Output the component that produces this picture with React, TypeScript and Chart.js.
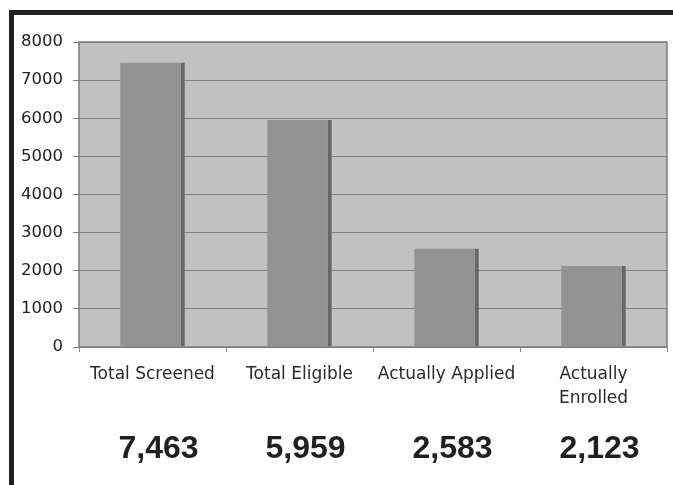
import React, { useEffect, useRef } from "react";
import { Chart, registerables } from "chart.js";

Chart.register(...registerables);

const categories: (string | string[])[] = [
  "Total Screened",
  "Total Eligible",
  "Actually Applied",
  ["Actually", "Enrolled"],
];
const values: number[] = [7463, 5959, 2583, 2123];
const totalLabels: string[] = ["7,463", "5,959", "2,583", "2,123"];
const yTicks: number[] = [0, 1000, 2000, 3000, 4000, 5000, 6000, 7000, 8000];

const plotBgPlugin = {
  id: "plotBg",
  beforeDraw(chart: any) {
    const { ctx, chartArea } = chart;
    ctx.save();
    ctx.fillStyle = "#c1c1c1";
    ctx.fillRect(chartArea.left, chartArea.top, chartArea.right - chartArea.left, chartArea.bottom - chartArea.top);
    ctx.restore();
  },
  afterDraw(chart: any) {
    const { ctx, chartArea } = chart;
    ctx.save();
    ctx.strokeStyle = "#7c7c7c";
    ctx.lineWidth = 1.5;
    ctx.strokeRect(chartArea.left, chartArea.top, chartArea.right - chartArea.left, chartArea.bottom - chartArea.top);
    const xs = chart.scales.x;
    ctx.fillStyle = "#231f20";
    ctx.font = "bold 32px 'Liberation Sans', Arial, sans-serif";
    ctx.textAlign = "center";
    ctx.textBaseline = "alphabetic";
    totalLabels.forEach((t, i) => {
      ctx.fillText(t, xs.getPixelForValue(i) + 6, 458);
    });
    ctx.restore();
  },
};

export default function App() {
  const ref = useRef<HTMLCanvasElement | null>(null);
  useEffect(() => {
    if (!ref.current) return;
    const chart = new Chart(ref.current, {
      type: "bar",
      data: {
        labels: categories,
        datasets: [
          {
            data: values,
            backgroundColor: "#939393",
            borderColor: "#686868",
            borderWidth: { top: 0, right: 4, bottom: 0, left: 0 },
            borderSkipped: false,
            barPercentage: 0.44,
            categoryPercentage: 1,
          },
        ],
      },
      options: {
        animation: false,
        responsive: false,
        maintainAspectRatio: false,
        layout: { padding: { top: 42, right: 6, left: 0, bottom: 0 } },
        plugins: { legend: { display: false }, tooltip: { enabled: false }, title: { display: false } },
        scales: {
          x: {
            grid: { display: true, drawOnChartArea: false, drawTicks: true, tickLength: 5, color: "#8a8a8a", offset: true },
            border: { display: false },
            ticks: {
              color: "#2a2a2a",
              padding: 10,
              maxRotation: 0,
              autoSkip: false,
              font: { family: "'DejaVu Sans', Verdana, sans-serif", size: 17, lineHeight: 1.45 },
            },
            afterFit(scale: any) {
              scale.height = 138;
            },
          },
          y: {
            min: 0,
            max: 8000,
            afterBuildTicks(scale: any) {
              scale.ticks = yTicks.map((v) => ({ value: v }));
            },
            grid: { color: "#808080", lineWidth: 1, drawTicks: true, tickLength: 6, tickColor: "#808080" },
            border: { display: false },
            ticks: {
              color: "#222222",
              padding: 10,
              font: { family: "'DejaVu Sans', Verdana, sans-serif", size: 16.5 },
              callback: (v: any) => String(v),
            },
            afterFit(scale: any) {
              scale.width = 79;
            },
          },
        },
      },
      plugins: [plotBgPlugin],
    });
    return () => chart.destroy();
  }, []);

  return (
    <div>
      <div
        style={{
          position: "fixed",
          left: 9,
          top: 10,
          width: 664,
          height: 475,
          boxSizing: "border-box",
          borderTop: "5px solid #231f20",
          borderLeft: "5px solid #231f20",
          background: "#ffffff",
        }}
      />
      <canvas
        ref={ref}
        width={673}
        height={485}
        style={{ position: "fixed", left: 0, top: 0, width: 673, height: 485 }}
      />
    </div>
  );
}
